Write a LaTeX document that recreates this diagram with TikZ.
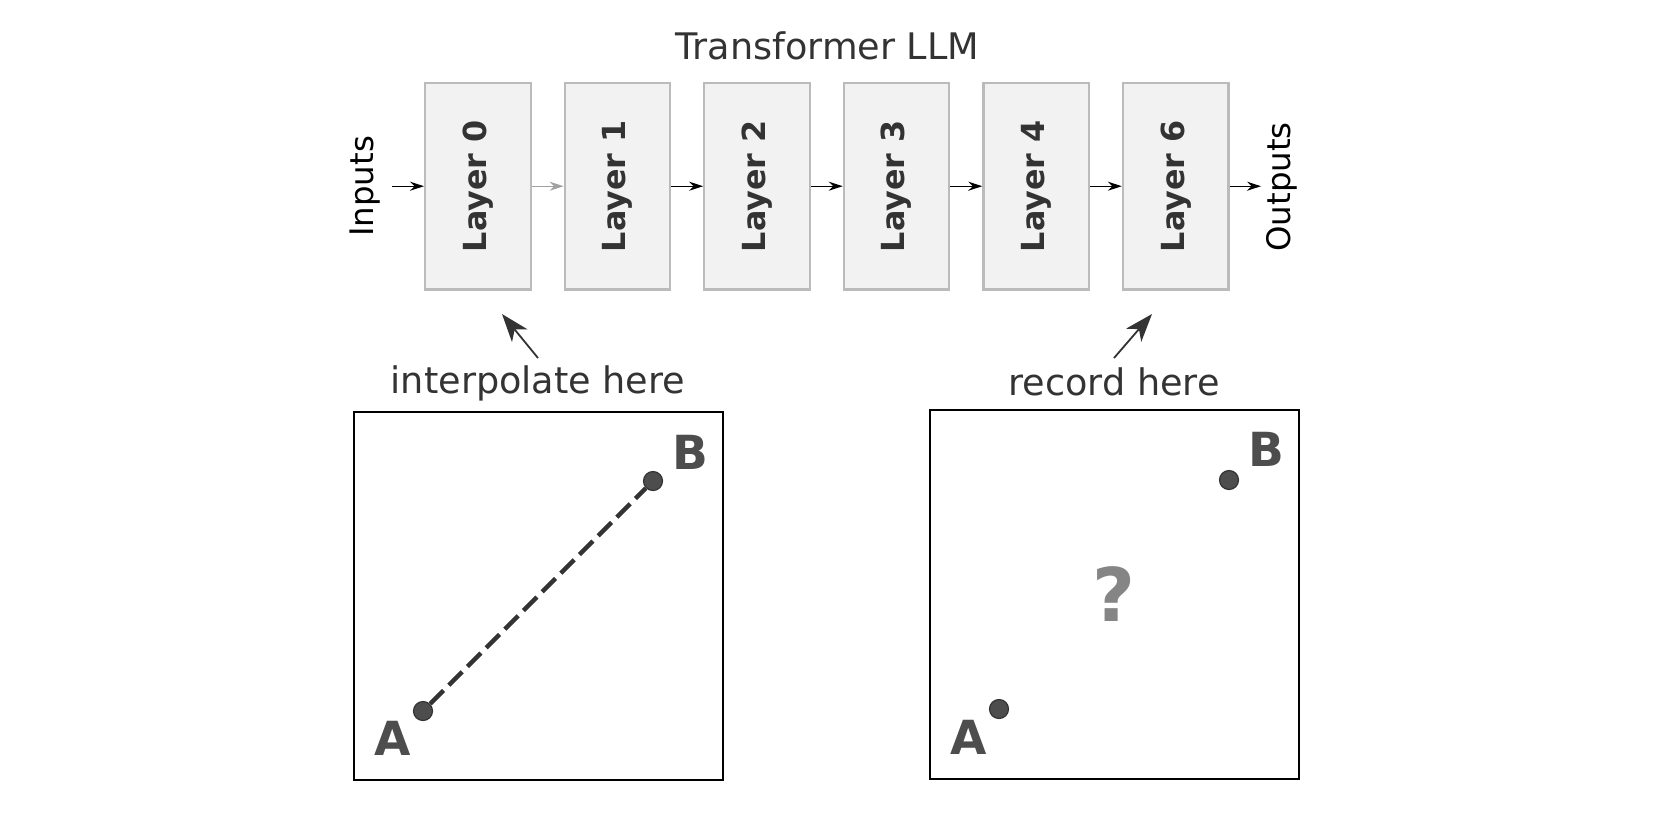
\documentclass[tikz,border=0pt]{standalone}
\usepackage{fontspec}
\setmainfont{DejaVu Sans}
\usetikzlibrary{arrows.meta}
\definecolor{txt}{HTML}{333333}
\definecolor{boxfill}{HTML}{F2F2F2}
\definecolor{boxline}{HTML}{BBBBBB}
\definecolor{dotfill}{HTML}{4D4D4D}
\definecolor{qgray}{HTML}{858585}
\definecolor{lgray}{HTML}{A0A0A0}
\tikzset{
  layerbox/.style={draw=boxline, fill=boxfill, line width=1.1pt, minimum width=52.75pt, minimum height=103.25pt, inner sep=0pt},
  layerlabel/.style={rotate=90, text=txt, font=\fontsize{15.9pt}{18pt}\selectfont\bfseries, inner sep=0pt},
  sidelabel/.style={rotate=90, text=black, font=\fontsize{16.2pt}{19pt}\selectfont, inner sep=0pt},
  flow/.style={-{Stealth[length=7pt,width=4.5pt]}, line width=0.7pt, black},
  pointer/.style={-{Stealth[length=14pt,width=10pt,inset=4pt]}, line width=0.9pt, txt},
  annot/.style={text=txt, font=\fontsize{18.3pt}{21pt}\selectfont, inner sep=0pt, anchor=base},
  panel/.style={draw=black, line width=1pt},
  dotpt/.style={circle, fill=dotfill, draw=txt, line width=0.6pt, minimum size=9.5pt, inner sep=0pt},
  ptlabel/.style={text=dotfill, font=\fontsize{23.5pt}{26pt}\selectfont\bfseries, inner sep=0pt},
}
\begin{document}
\begin{tikzpicture}[x=0.5pt,y=-0.5pt]
\path[use as bounding box] (0,0) rectangle (1654,827);
% title
\node[annot] (title) at (827.5,59) {Transformer LLM};
% layers
\foreach \i/\lab in {0/0,1/1,2/2,3/3,4/4,5/6}{
  \node[layerbox] (L\i) at ({477.9+139.56*\i},186.2) {};
  \node[layerlabel] (T\i) at (L\i.center) {Layer \lab};
}
\node[sidelabel] (inp) at (365,186.5) {Inputs};
\node[sidelabel] (outp) at (1282,187) {Outputs};
\coordinate (inS) at (392,186.2);
\coordinate (outE) at (1261,186.2);
\draw[flow] (inS) -- (L0.west);
\draw[flow, draw=lgray, -{Stealth[length=7pt,width=4.5pt,color=lgray]}] (L0.east) -- (L1.west);
\draw[flow] (L1.east) -- (L2.west);
\draw[flow] (L2.east) -- (L3.west);
\draw[flow] (L3.east) -- (L4.west);
\draw[flow] (L4.east) -- (L5.west);
\draw[flow] (L5.east) -- (outE);
% annotations
\node[annot] (interp) at (538,393) {interpolate here};
\node[annot] (rec) at (1114,395) {record here};
\coordinate (it) at (538,358);
\coordinate (ih) at (502,314);
\coordinate (rt) at (1114,358);
\coordinate (rh) at (1152,314);
\draw[pointer] (it) -- (ih);
\draw[pointer] (rt) -- (rh);
% left panel
\node[panel, minimum width=184.5pt, minimum height=184pt, inner sep=0pt] (P1) at (538.5,596) {};
\node[dotpt] (A1) at (423,711) {};
\node[dotpt] (B1) at (653,481) {};
\draw[txt, line width=2.2pt, dash pattern=on 9.5pt off 3.7pt] (A1) -- (B1);
\node[ptlabel] (LA1) at (393,738) {A};
\node[ptlabel] (LB1) at (690,452) {B};
% right panel
\node[panel, minimum width=184.5pt, minimum height=184.5pt, inner sep=0pt] (P2) at (1114.5,594.5) {};
\node[dotpt] (A2) at (999,709) {};
\node[dotpt] (B2) at (1229,480) {};
\node[ptlabel] (LA2) at (969,737) {A};
\node[ptlabel] (LB2) at (1266,449) {B};
\node[text=qgray, font=\fontsize{37pt}{40pt}\selectfont\bfseries, inner sep=0pt] (Q) at (1114,594) {?};
\end{tikzpicture}
\end{document}
